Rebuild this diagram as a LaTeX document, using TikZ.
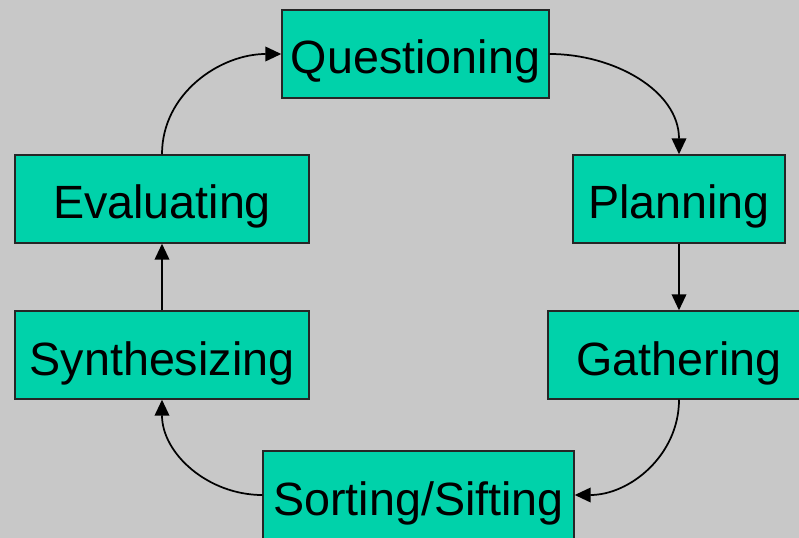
\documentclass[tikz,border=0pt]{standalone}
\usepackage{fontspec}
\setmainfont{Liberation Sans}
\usetikzlibrary{arrows.meta}
\definecolor{bgc}{RGB}{200,200,200}
\definecolor{boxc}{RGB}{0,210,170}
\begin{document}
\begin{tikzpicture}[x=0.75pt,y=-0.75pt,
  stage/.style={draw=black!85,line width=1.1pt,fill=boxc,minimum height=66pt,inner sep=0pt,
    text height=30pt,text depth=0pt,font=\fontsize{35}{42}\selectfont},
  conn/.style={line width=1.3pt,-{Triangle[length=12pt,width=11pt]}}]
\clip (0,0) rectangle (799,538);
\fill[bgc] (0,0) rectangle (799,538);
\node[stage,minimum width=200.25pt] (q) at (415.5,54) {Questioning};
\node[stage,minimum width=159pt] (p) at (679,199) {Planning};
\node[stage,minimum width=196.5pt] (g) at (679,355) {Gathering};
\node[stage,minimum width=233.25pt] (s) at (418.5,495) {Sorting/Sifting};
\node[stage,minimum width=220.5pt] (y) at (162,355) {Synthesizing};
\node[stage,minimum width=220.5pt] (e) at (162,199) {Evaluating};
\draw[conn] (e.north) to[out=90,in=180] (q.west);
\draw[conn] (q.east) to[out=0,in=90] (p.north);
\draw[conn] (p.south) -- (g.north);
\draw[conn] (g.south) to[out=-90,in=0] (s.east);
\draw[conn] (s.west) to[out=180,in=-90] (y.south);
\draw[conn] (y.north) -- (e.south);
\end{tikzpicture}
\end{document}
